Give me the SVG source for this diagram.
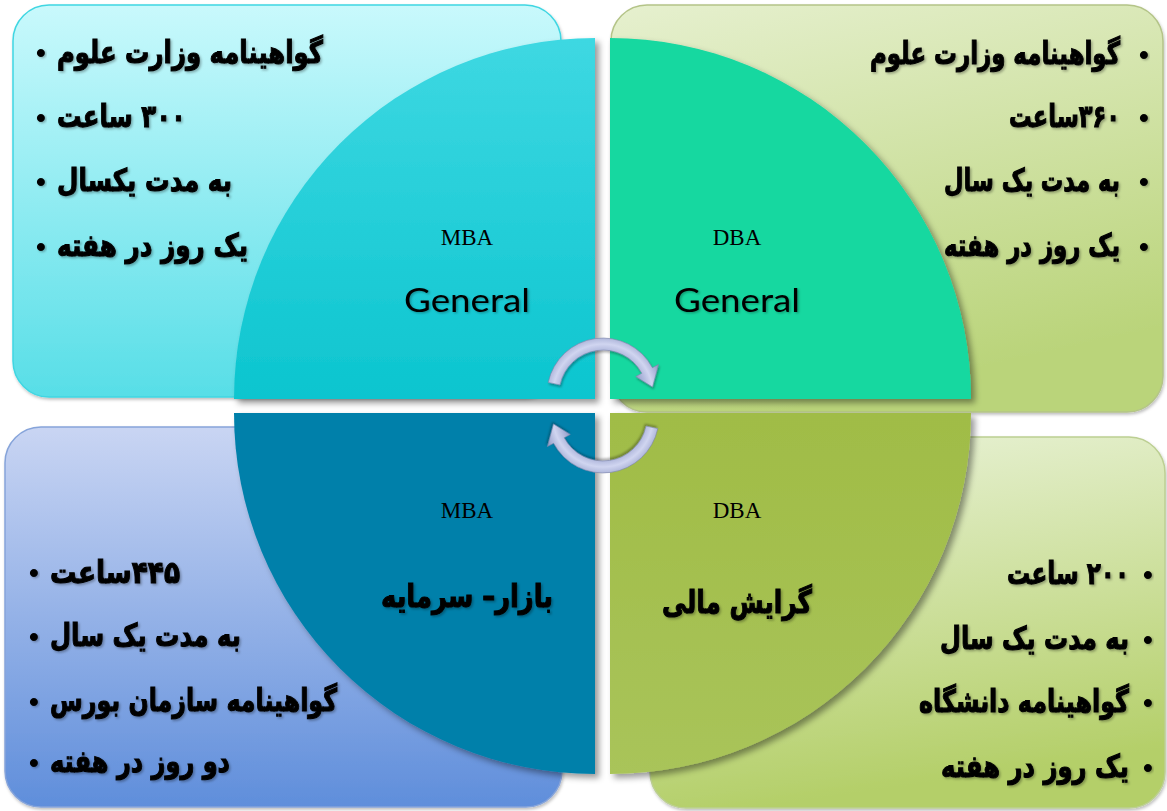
<svg xmlns="http://www.w3.org/2000/svg" width="1167" height="811" viewBox="0 0 1167 811">
<defs>
<linearGradient id="gTLr" x1="0" y1="0" x2="0" y2="1"><stop offset="0" stop-color="#c9f9fc"/><stop offset="1" stop-color="#57dee7"/></linearGradient>
<linearGradient id="gTRr" x1="0" y1="0" x2="0.3" y2="1"><stop offset="0" stop-color="#e6f0cf"/><stop offset="1" stop-color="#bad47a"/></linearGradient>
<linearGradient id="gBLr" x1="0" y1="0" x2="0" y2="1"><stop offset="0" stop-color="#c9d5f3"/><stop offset="1" stop-color="#5f8edb"/></linearGradient>
<linearGradient id="gBRr" x1="0" y1="0" x2="0.2" y2="1"><stop offset="0" stop-color="#eaf3d9"/><stop offset="1" stop-color="#b4cf69"/></linearGradient>
<linearGradient id="gTLs" x1="0" y1="0" x2="0" y2="1"><stop offset="0" stop-color="#3ed8e2"/><stop offset="1" stop-color="#0cc5cf"/></linearGradient>
<linearGradient id="gBRs" x1="0" y1="0" x2="0" y2="1"><stop offset="0" stop-color="#a0bc46"/><stop offset="1" stop-color="#a9c45a"/></linearGradient>
<radialGradient id="gArr" cx="603" cy="394" r="64" gradientUnits="userSpaceOnUse">
<stop offset="0.56" stop-color="#8890b8"/><stop offset="0.64" stop-color="#a6aed6"/><stop offset="0.78" stop-color="#d0d5f0"/><stop offset="0.9" stop-color="#a8b0d6"/><stop offset="1" stop-color="#828ab0"/>
</radialGradient>
<filter id="shSector" x="-10%" y="-10%" width="125%" height="125%"><feDropShadow dx="4" dy="4" stdDeviation="3" flood-color="#000" flood-opacity="0.4"/></filter>
<filter id="shRect" x="-5%" y="-5%" width="110%" height="112%"><feDropShadow dx="1" dy="2" stdDeviation="1.5" flood-color="#000" flood-opacity="0.25"/></filter>
<filter id="shText" x="-5%" y="-20%" width="115%" height="150%"><feDropShadow dx="1.5" dy="1.2" stdDeviation="0.9" flood-color="#000" flood-opacity="0.3"/></filter>
<filter id="shArr" x="-10%" y="-10%" width="130%" height="130%"><feDropShadow dx="1" dy="2" stdDeviation="1.2" flood-color="#000" flood-opacity="0.3"/></filter>
</defs>
<style>
.fa{font-family:"DejaVu Sans",sans-serif;font-weight:bold;font-size:23px;fill:#000;stroke:#000;stroke-width:0.8;filter:url(#shText)}
.bul{font-family:"Liberation Sans",sans-serif;font-weight:bold;font-size:28px;fill:#000;text-anchor:middle;filter:url(#shText)}
.ttl{font-family:"Liberation Serif",serif;font-size:23px;fill:#000;text-anchor:middle}
.gen{font-family:"Lato","Liberation Sans",sans-serif;font-size:33px;fill:#000;text-anchor:middle;filter:url(#shText)}
.lab{font-family:"DejaVu Sans",sans-serif;font-weight:bold;font-size:24px;fill:#000;stroke:#000;stroke-width:0.8;text-anchor:middle;filter:url(#shText)}
.sector{filter:url(#shSector)}
.box{filter:url(#shRect);stroke-width:1.5}
.arr{fill:url(#gArr);stroke:#7c84aa;stroke-width:0.6;filter:url(#shArr)}
</style>
<rect width="1167" height="811" fill="#ffffff"/>

<g id="node-mba-general">
<rect class="box" x="13" y="5" width="548" height="392" rx="36" fill="url(#gTLr)" stroke="#3fd6e2"/>
<path class="sector" d="M595,399 L234,399 A361,361 0 0 1 595,38 Z" fill="url(#gTLs)"/>
<text class="bul" x="41" y="62">•</text>
<text class="bul" x="41" y="127">•</text>
<text class="bul" x="41" y="191">•</text>
<text class="bul" x="41" y="256">•</text>
<text class="fa" transform="translate(57,63) scale(1,1.35)" x="0" y="0" textLength="266" lengthAdjust="spacingAndGlyphs">&#x200F;گواهینامه وزارت علوم</text>
<text class="fa" transform="translate(57,127) scale(1,1.35)" x="0" y="0" textLength="129" lengthAdjust="spacingAndGlyphs">&#x200F;۳۰۰ ساعت</text>
<text class="fa" transform="translate(57,191) scale(1,1.35)" x="0" y="0" textLength="175" lengthAdjust="spacingAndGlyphs">&#x200F;به مدت یکسال</text>
<text class="fa" transform="translate(57,256) scale(1,1.35)" x="0" y="0" textLength="191" lengthAdjust="spacingAndGlyphs">&#x200F;یک روز در هفته</text>
<text class="ttl" x="467" y="245">MBA</text>
<text class="gen" x="467" y="312" textLength="126" lengthAdjust="spacingAndGlyphs">General</text>
</g>

<g id="node-dba-general">
<rect class="box" x="611" y="5" width="552" height="407" rx="36" fill="url(#gTRr)" stroke="#b4c488"/>
<path class="sector" d="M610,399 L610,38 A361,361 0 0 1 971,399 Z" fill="#14d8a0"/>
<text class="bul" x="1144" y="64">•</text>
<text class="bul" x="1144" y="127">•</text>
<text class="bul" x="1144" y="191">•</text>
<text class="bul" x="1144" y="256">•</text>
<text class="fa" transform="translate(870,64) scale(1,1.35)" x="0" y="0" textLength="250" lengthAdjust="spacingAndGlyphs">&#x200F;گواهینامه وزارت علوم</text>
<text class="fa" transform="translate(1009,127) scale(1,1.35)" x="0" y="0" textLength="111" lengthAdjust="spacingAndGlyphs">&#x200F;۳۶۰ساعت</text>
<text class="fa" transform="translate(944,191) scale(1,1.35)" x="0" y="0" textLength="176" lengthAdjust="spacingAndGlyphs">&#x200F;به مدت یک سال</text>
<text class="fa" transform="translate(944,256) scale(1,1.35)" x="0" y="0" textLength="176" lengthAdjust="spacingAndGlyphs">&#x200F;یک روز در هفته</text>
<text class="ttl" x="737" y="245">DBA</text>
<text class="gen" x="737" y="312" textLength="126" lengthAdjust="spacingAndGlyphs">General</text>
</g>

<g id="node-mba-bazar">
<rect class="box" x="5" y="427" width="557" height="380" rx="36" fill="url(#gBLr)" stroke="#86a4da"/>
<path class="sector" d="M595,413 L595,774 A361,361 0 0 1 234,413 Z" fill="#0380aa"/>
<text class="bul" x="34" y="582">•</text>
<text class="bul" x="34" y="646">•</text>
<text class="bul" x="34" y="711">•</text>
<text class="bul" x="34" y="772">•</text>
<text class="fa" transform="translate(50,583) scale(1,1.35)" x="0" y="0" textLength="130" lengthAdjust="spacingAndGlyphs">&#x200F;۴۴۵ساعت</text>
<text class="fa" transform="translate(50,646) scale(1,1.35)" x="0" y="0" textLength="191" lengthAdjust="spacingAndGlyphs">&#x200F;به مدت یک سال</text>
<text class="fa" transform="translate(50,711) scale(1,1.35)" x="0" y="0" textLength="287" lengthAdjust="spacingAndGlyphs">&#x200F;گواهینامه سازمان بورس</text>
<text class="fa" transform="translate(50,772) scale(1,1.35)" x="0" y="0" textLength="180" lengthAdjust="spacingAndGlyphs">&#x200F;دو روز در هفته</text>
<text class="ttl" x="467" y="518">MBA</text>
<text class="lab" transform="translate(467,607) scale(1,1.33)" x="0" y="0" textLength="172" lengthAdjust="spacingAndGlyphs">&#x200F;بازار– سرمایه</text>
</g>

<g id="node-dba-mali">
<rect class="box" x="650" y="437" width="515" height="371" rx="36" fill="url(#gBRr)" stroke="#bccf92"/>
<path class="sector" d="M610,413 L971,413 A361,361 0 0 1 610,774 Z" fill="url(#gBRs)"/>
<text class="bul" x="1148" y="584">•</text>
<text class="bul" x="1148" y="649">•</text>
<text class="bul" x="1148" y="712">•</text>
<text class="bul" x="1148" y="777">•</text>
<text class="fa" transform="translate(1007,584) scale(1,1.35)" x="0" y="0" textLength="122" lengthAdjust="spacingAndGlyphs">&#x200F;۲۰۰ ساعت</text>
<text class="fa" transform="translate(940,649) scale(1,1.35)" x="0" y="0" textLength="189" lengthAdjust="spacingAndGlyphs">&#x200F;به مدت یک سال</text>
<text class="fa" transform="translate(919,712) scale(1,1.35)" x="0" y="0" textLength="210" lengthAdjust="spacingAndGlyphs">&#x200F;گواهینامه دانشگاه</text>
<text class="fa" transform="translate(941,777) scale(1,1.35)" x="0" y="0" textLength="188" lengthAdjust="spacingAndGlyphs">&#x200F;یک روز در هفته</text>
<text class="ttl" x="737" y="518">DBA</text>
<text class="lab" transform="translate(737,613) scale(1,1.33)" x="0" y="0" textLength="150" lengthAdjust="spacingAndGlyphs">&#x200F;گرایش مالی</text>
</g>

<g id="connectors">
<path id="arrow-top" class="arr" d="M548.2,382.4 A56,56 0 0 1 652.4,367.7 L658.6,364.4 L652.5,387 L635.7,376.6 L641.8,373.3 A44,44 0 0 0 560,384.9 Z"/>
<path id="arrow-bottom" class="arr" transform="rotate(180 603 405.5)" d="M548.2,382.4 A56,56 0 0 1 652.4,367.7 L658.6,364.4 L652.5,387 L635.7,376.6 L641.8,373.3 A44,44 0 0 0 560,384.9 Z"/>
</g>
</svg>
